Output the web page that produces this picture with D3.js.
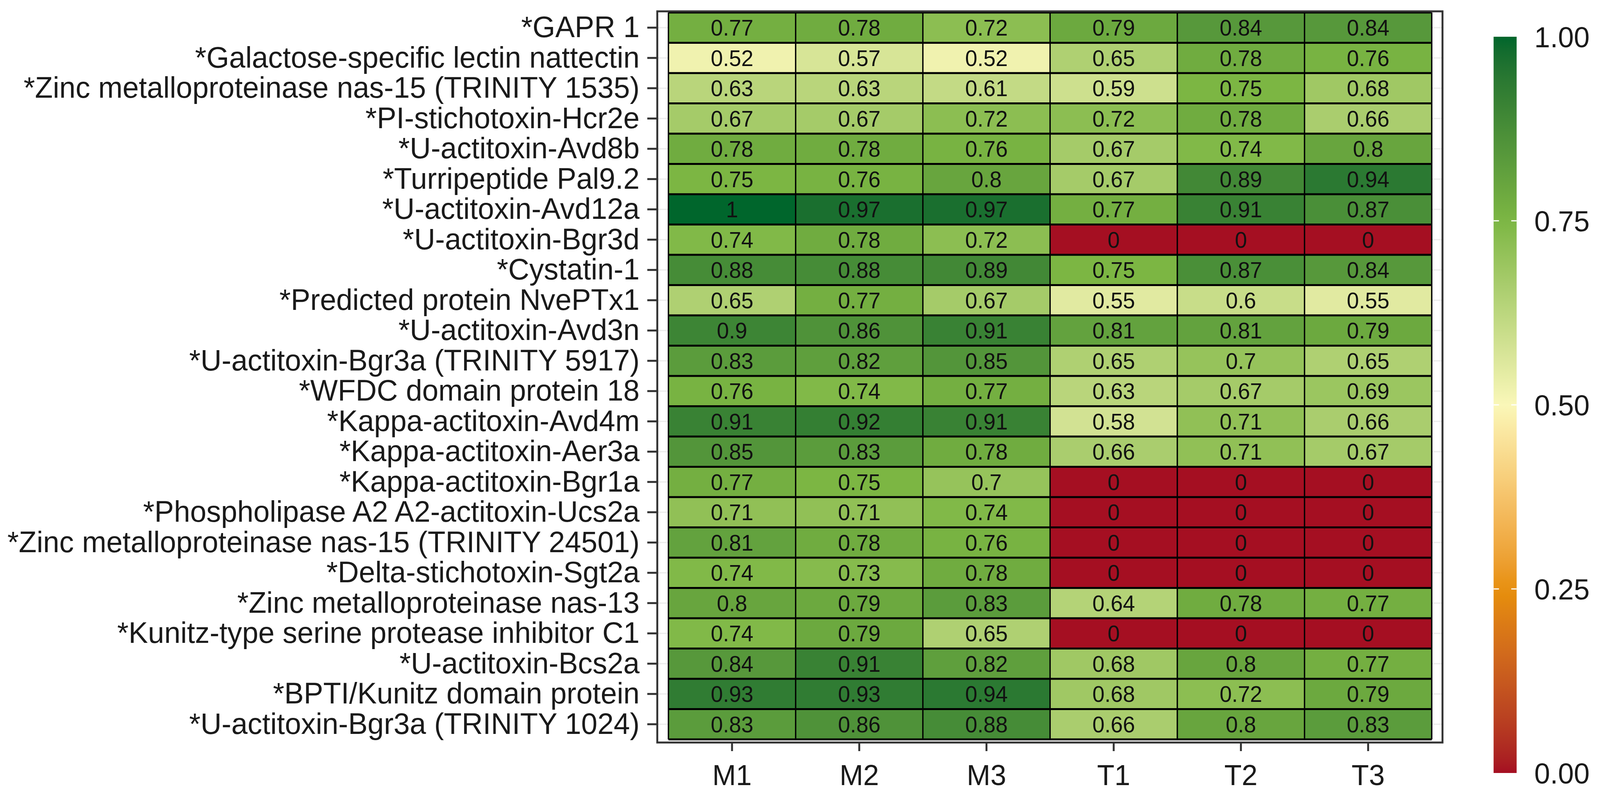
<!DOCTYPE html>
<html>
<head>
<meta charset="utf-8">
<script src="https://cdn.jsdelivr.net/npm/d3@7"></script>
<style>
  html, body { margin: 0; padding: 0; background: #fff; overflow: hidden; }
  svg { display: block; width: 100vw; height: 100vh; }
  text { font-family: "Liberation Sans", Arial, sans-serif; }
</style>
</head>
<body>
<div id="chart"></div>
<script>
// rows, top to bottom
var proteins = [
    "*GAPR 1",
    "*Galactose-specific lectin nattectin",
    "*Zinc metalloproteinase nas-15 (TRINITY 1535)",
    "*PI-stichotoxin-Hcr2e",
    "*U-actitoxin-Avd8b",
    "*Turripeptide Pal9.2",
    "*U-actitoxin-Avd12a",
    "*U-actitoxin-Bgr3d",
    "*Cystatin-1",
    "*Predicted protein NvePTx1",
    "*U-actitoxin-Avd3n",
    "*U-actitoxin-Bgr3a (TRINITY 5917)",
    "*WFDC domain protein 18",
    "*Kappa-actitoxin-Avd4m",
    "*Kappa-actitoxin-Aer3a",
    "*Kappa-actitoxin-Bgr1a",
    "*Phospholipase A2 A2-actitoxin-Ucs2a",
    "*Zinc metalloproteinase nas-15 (TRINITY 24501)",
    "*Delta-stichotoxin-Sgt2a",
    "*Zinc metalloproteinase nas-13",
    "*Kunitz-type serine protease inhibitor C1",
    "*U-actitoxin-Bcs2a",
    "*BPTI/Kunitz domain protein",
    "*U-actitoxin-Bgr3a (TRINITY 1024)"
];

var samples = ["M1", "M2", "M3", "T1", "T2", "T3"];

// one array per sample column, same order as proteins
var m1 = [0.77, 0.52, 0.63, 0.67, 0.78, 0.75, 1, 0.74, 0.88, 0.65, 0.9, 0.83, 0.76, 0.91, 0.85, 0.77, 0.71, 0.81, 0.74, 0.8, 0.74, 0.84, 0.93, 0.83];
var m2 = [0.78, 0.57, 0.63, 0.67, 0.78, 0.76, 0.97, 0.78, 0.88, 0.77, 0.86, 0.82, 0.74, 0.92, 0.83, 0.75, 0.71, 0.78, 0.73, 0.79, 0.79, 0.91, 0.93, 0.86];
var m3 = [0.72, 0.52, 0.61, 0.72, 0.76, 0.8, 0.97, 0.72, 0.89, 0.67, 0.91, 0.85, 0.77, 0.91, 0.78, 0.7, 0.74, 0.76, 0.78, 0.83, 0.65, 0.82, 0.94, 0.88];
var t1 = [0.79, 0.65, 0.59, 0.72, 0.67, 0.67, 0.77, 0, 0.75, 0.55, 0.81, 0.65, 0.63, 0.58, 0.66, 0, 0, 0, 0, 0.64, 0, 0.68, 0.68, 0.66];
var t2 = [0.84, 0.78, 0.75, 0.78, 0.74, 0.89, 0.91, 0, 0.87, 0.6, 0.81, 0.7, 0.67, 0.71, 0.71, 0, 0, 0, 0, 0.78, 0, 0.8, 0.72, 0.8];
var t3 = [0.84, 0.76, 0.68, 0.66, 0.8, 0.94, 0.87, 0, 0.84, 0.55, 0.79, 0.65, 0.69, 0.66, 0.67, 0, 0, 0, 0, 0.77, 0, 0.77, 0.79, 0.83];

var legendTicks = [0, 0.25, 0.5, 0.75, 1];

var columns = [m1, m2, m3, t1, t2, t3];
var cells = [];
samples.forEach(function (s, j) {
    proteins.forEach(function (p, i) {
        cells.push({sample: s, protein: p, value: columns[j][i]});
    });
});

// drawn in a 4165x2042 coordinate space, stretched to whatever the window is
var width = 4165, height = 2042;
var svg = d3.select("#chart").append("svg")
    .attr("viewBox", "0 0 " + width + " " + height)
    .attr("preserveAspectRatio", "none");

var panel = {left: 1711, right: 3755, top: 29, bottom: 1900};

var x = d3.scaleBand().domain(samples).range([1740, 3727]);
var y = d3.scaleBand().domain(proteins).range([32, 1892]);

var color = d3.scaleLinear()
    .domain([0, 0.25, 0.5, 0.75, 1])
    .range(["#a50f22", "#e8900a", "#faf7b8", "#7cb643", "#00662c"])
    .interpolate(d3.interpolateLab);

// panel background + grid
svg.append("rect")
    .attr("x", panel.left).attr("y", panel.top)
    .attr("width", panel.right - panel.left).attr("height", panel.bottom - panel.top)
    .attr("fill", "#fff");

svg.append("g").selectAll("line").data(proteins).join("line")
    .attr("x1", panel.left).attr("x2", panel.right)
    .attr("y1", function(d) { return y(d) + y.bandwidth() / 2; })
    .attr("y2", function(d) { return y(d) + y.bandwidth() / 2; })
    .attr("stroke", "#ebebeb").attr("stroke-width", 3);

// tiles
svg.append("g").selectAll("rect").data(cells).join("rect")
    .attr("x", function(d) { return x(d.sample); })
    .attr("y", function(d) { return y(d.protein); })
    .attr("width", x.bandwidth())
    .attr("height", y.bandwidth())
    .attr("fill", function(d) { return color(d.value); });

// tile borders
var rowEdges = proteins.map(function(p) { return y(p); }).concat([y.range()[1]]);
var colEdges = samples.map(function(s) { return x(s); }).concat([x.range()[1]]);

svg.append("g").selectAll("line").data(rowEdges).join("line")
    .attr("x1", x.range()[0]).attr("x2", x.range()[1])
    .attr("y1", function(d) { return d; }).attr("y2", function(d) { return d; })
    .attr("stroke", "#000").attr("stroke-width", 5);

svg.append("g").selectAll("line").data(colEdges).join("line")
    .attr("y1", y.range()[0]).attr("y2", y.range()[1])
    .attr("x1", function(d) { return d; }).attr("x2", function(d) { return d; })
    .attr("stroke", "#000").attr("stroke-width", 3.5);

// tile labels
svg.append("g").selectAll("text").data(cells).join("text")
    .attr("x", function(d) { return x(d.sample) + x.bandwidth() / 2; })
    .attr("y", function(d) { return y(d.protein) + y.bandwidth() / 2; })
    .attr("dy", "0.36em")
    .attr("text-anchor", "middle")
    .attr("font-size", 57)
    .attr("fill", "#111")
    .text(function(d) { return d3.format("")(d.value); });

// panel border
svg.append("rect")
    .attr("x", panel.left).attr("y", panel.top)
    .attr("width", panel.right - panel.left).attr("height", panel.bottom - panel.top)
    .attr("fill", "none").attr("stroke", "#333").attr("stroke-width", 5);

// axes
var yAxis = svg.append("g")
    .attr("transform", "translate(" + panel.left + ",0)")
    .call(d3.axisLeft(y).tickSize(26).tickPadding(20));
var xAxis = svg.append("g")
    .attr("transform", "translate(0," + panel.bottom + ")")
    .call(d3.axisBottom(x).tickSize(22).tickPadding(34));

[yAxis, xAxis].forEach(function(ax) {
    ax.select(".domain").remove();
    ax.selectAll(".tick line").attr("stroke", "#333").attr("stroke-width", 5);
    ax.selectAll(".tick text")
        .attr("font-family", "Liberation Sans, Arial, sans-serif")
        .attr("fill", "#1a1a1a");
});
yAxis.selectAll(".tick text").attr("font-size", 76);
xAxis.selectAll(".tick text").attr("font-size", 74).attr("dy", "0.71em");

// colour bar
var bar = {x: 3888, w: 60, top: 94, bottom: 1978};
var yc = d3.scaleLinear().domain([0, 1]).range([bar.bottom, bar.top]);

var grad = svg.append("defs").append("linearGradient")
    .attr("id", "cbar").attr("x1", 0).attr("y1", 1).attr("x2", 0).attr("y2", 0);
grad.selectAll("stop").data(d3.range(0, 1.0001, 0.02)).join("stop")
    .attr("offset", function(d) { return d; })
    .attr("stop-color", function(d) { return color(d); });

svg.append("rect")
    .attr("x", bar.x).attr("y", bar.top)
    .attr("width", bar.w).attr("height", bar.bottom - bar.top)
    .attr("fill", "url(#cbar)");

var inner = legendTicks.filter(function(d) { return d > 0 && d < 1; });
svg.append("g").selectAll("line").data(inner).join("line")
    .attr("x1", bar.x).attr("x2", bar.x + 14)
    .attr("y1", yc).attr("y2", yc)
    .attr("stroke", "#fff").attr("stroke-width", 3);
svg.append("g").selectAll("line").data(inner).join("line")
    .attr("x1", bar.x + bar.w - 14).attr("x2", bar.x + bar.w)
    .attr("y1", yc).attr("y2", yc)
    .attr("stroke", "#fff").attr("stroke-width", 3);

svg.append("g").selectAll("text").data(legendTicks).join("text")
    .attr("x", 3994)
    .attr("y", yc)
    .attr("dy", "0.36em")
    .attr("font-size", 74)
    .attr("fill", "#1a1a1a")
    .text(d3.format(".2f"));
</script>
</body>
</html>
